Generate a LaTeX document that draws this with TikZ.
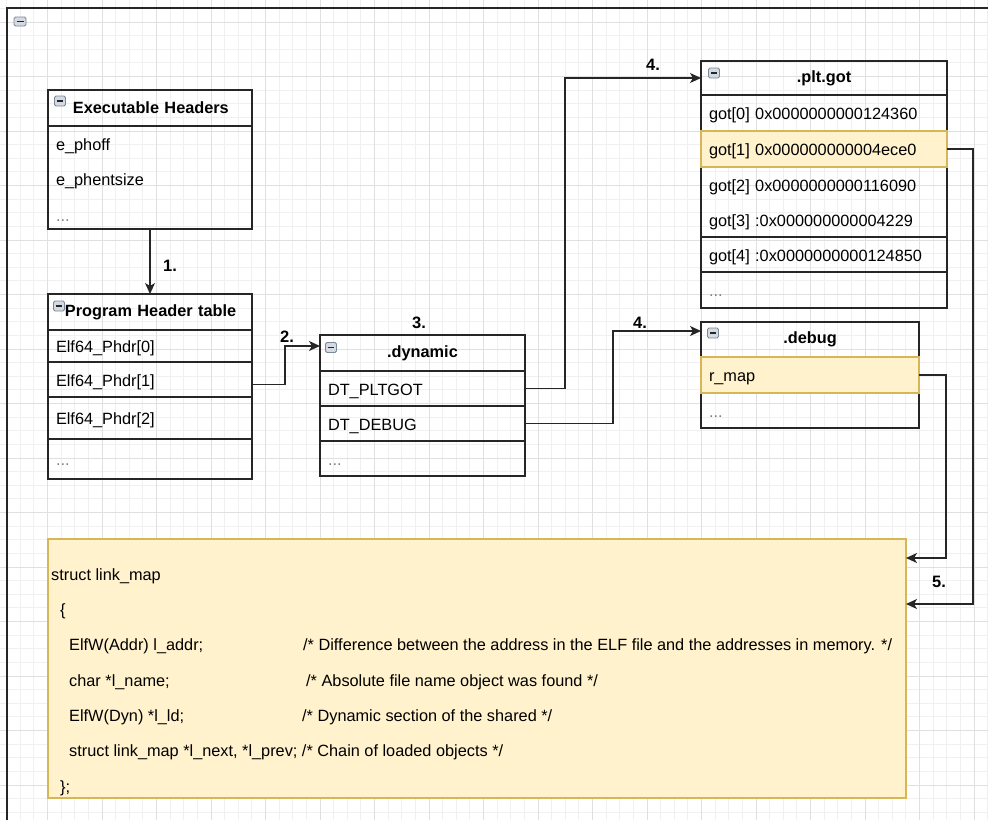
\documentclass[tikz,border=0pt]{standalone}
\usepackage{fontspec}
\setmainfont{Liberation Sans}
\usepackage{xcolor}
\usetikzlibrary{arrows.meta, positioning}
\definecolor{hlfill}{HTML}{FFF2CC}
\definecolor{hldraw}{HTML}{D6B656}
\definecolor{gridmin}{HTML}{F0F0F0}
\definecolor{gridmaj}{HTML}{E0E0E0}
\definecolor{edge}{HTML}{262626}
\definecolor{iconfill}{HTML}{D3DAE2}
\definecolor{icondraw}{HTML}{7D8896}

\begin{document}
\begin{tikzpicture}[
    x=1pt, y=-1pt,
    tbl/.style={draw=edge, line width=1.4pt, outer sep=0pt, inner xsep=8pt, inner ysep=0pt},
    hdr/.style={tbl, font=\bfseries\fontsize{16.3}{19}\selectfont},
    fldbase/.style={tbl, font=\fontsize{16.3}{19}\selectfont, align=left},
    fld/.style={fldbase, text height=16.5pt, text depth=3.5pt},
    hl/.style={fill=hlfill, draw=hldraw},
    phcol/.style={minimum width=204pt, text width=188pt},
    dyncol/.style={minimum width=205pt, text width=189pt},
    gotcol/.style={minimum width=246pt, text width=230pt},
    dbgcol/.style={minimum width=218pt, text width=202pt},
    icon/.style={draw=icondraw, fill=iconfill, line width=0.8pt, rounded corners=1.5pt,
        minimum width=11pt, minimum height=10pt, inner sep=0pt,
        path picture={\draw[line width=1.6pt, edge] ([xshift=2.5pt]path picture bounding box.west) -- ([xshift=-2.5pt]path picture bounding box.east);}},
    num/.style={font=\bfseries\fontsize{16.5}{19}\selectfont, inner sep=0pt},
    line/.style={-{Stealth[length=11pt, width=10pt, inset=3pt]}, line width=1.4pt, draw=edge},
    gmin/.style={draw=gridmin, line width=0.8pt},
    gmaj/.style={draw=gridmaj, line width=0.9pt}
]
\useasboundingbox (0,0) rectangle (988,820);
\fill[white] (0,0) rectangle (988,820);

% Grid
\foreach \gx in {6.625,20.25,...,988} \draw[gmin] (\gx,0) -- (\gx,820);
\foreach \gy in {8.375,22,...,820} \draw[gmin] (0,\gy) -- (988,\gy);
\foreach \gx in {47.5,102,...,988} \draw[gmaj] (\gx,0) -- (\gx,820);
\foreach \gy in {22,76.5,...,820} \draw[gmaj] (0,\gy) -- (988,\gy);

% Container
\draw[edge, line width=2.2pt] (7,820) |- (988,8);
\node[icon, minimum width=12pt, minimum height=9pt] (topic) at (20,21.5) {};

% Executable headers
\node[hdr, phcol, minimum height=36pt, align=left, anchor=north west] (exech) at (48,90) {\hspace*{17pt}Executable Headers};
\node[fldbase, phcol, minimum height=103pt, below=0pt of exech, font=\fontsize{16.3}{35.5}\selectfont] (exec) {\rule{0pt}{16.5pt}e\_phoff\\e\_phentsize\\\textcolor{black!50}{...}};
\node[icon] (exic) at ([xshift=12pt, yshift=-11pt]exech.north west) {};

% Program header table
\node[hdr, phcol, minimum height=36pt, align=left, anchor=north west] (phth) at (48,294) {\hspace*{9pt}Program Header table};
\node[fld, phcol, minimum height=32pt, below=0pt of phth] (ph0) {Elf64\_Phdr[0]};
\node[fld, phcol, minimum height=35pt, below=0pt of ph0] (ph1) {Elf64\_Phdr[1]};
\node[fld, phcol, minimum height=42pt, below=0pt of ph1] (ph2) {Elf64\_Phdr[2]};
\node[fld, phcol, minimum height=40pt, below=0pt of ph2] (ph3) {\textcolor{black!50}{...}};
\node[icon] (phic) at ([xshift=11pt, yshift=-12pt]phth.north west) {};

% .dynamic
\node[hdr, dyncol, minimum height=36pt, align=center, anchor=north west] (dynh) at (320,335) {.dynamic};
\node[fld, dyncol, minimum height=35pt, below=0pt of dynh] (dpltgot) {DT\_PLTGOT};
\node[fld, dyncol, minimum height=35pt, below=0pt of dpltgot] (ddebug) {DT\_DEBUG};
\node[fld, dyncol, minimum height=35pt, below=0pt of ddebug] (ddots) {\textcolor{black!50}{...}};
\node[icon] (dynic) at ([xshift=11pt, yshift=-12.5pt]dynh.north west) {};

% .plt.got
\node[hdr, gotcol, minimum height=34pt, align=center, anchor=north west] (goth) at (701,61) {.plt.got};
\node[fld, gotcol, minimum height=36pt, below=0pt of goth] (got0) {got[0] 0x0000000000124360};
\node[fld, gotcol, hl, minimum height=36pt, below=0pt of got0] (got1) {got[1] 0x000000000004ece0};
\node[fldbase, gotcol, minimum height=70pt, below=0pt of got1, font=\fontsize{16.3}{35}\selectfont] (got23) {\rule{0pt}{16.5pt}got[2] 0x0000000000116090\\got[3] :0x000000000004229};
\node[fld, gotcol, minimum height=35pt, below=0pt of got23] (got4) {got[4] :0x0000000000124850};
\node[fld, gotcol, minimum height=36pt, below=0pt of got4] (gotdots) {\textcolor{black!50}{...}};
\draw[hldraw, line width=1.4pt] (got1.north west) rectangle (got1.south east);
\node[icon] (gotic) at ([xshift=13pt, yshift=-12pt]goth.north west) {};

% .debug
\node[hdr, dbgcol, minimum height=35pt, align=center, anchor=north west] (dbgh) at (701,322) {.debug};
\node[fld, dbgcol, hl, minimum height=36pt, below=0pt of dbgh] (rmap) {r\_map};
\node[fld, dbgcol, minimum height=35pt, below=0pt of rmap] (dbgdots) {\textcolor{black!50}{...}};
\draw[hldraw, line width=1.4pt] (rmap.north west) rectangle (rmap.south east);
\node[icon] (dbgic) at ([xshift=12pt, yshift=-11pt]dbgh.north west) {};

% link_map
\node[tbl, fill=hlfill, draw=hldraw, minimum width=858pt, minimum height=259pt, anchor=north west] (lmap) at (48,539) {};
\node[anchor=north west, inner sep=0pt, align=left, font=\fontsize{16.3}{35.33}\selectfont] (lmaptxt) at (51,568) {%
struct link\_map\\
\hspace*{9pt}\{\\
\hspace*{18pt}\makebox[234pt][l]{ElfW(Addr) l\_addr;}/* Difference between the address in the ELF file and the addresses in memory. */\\
\hspace*{18pt}\makebox[237pt][l]{char *l\_name;}/* Absolute file name object was found */\\
\hspace*{18pt}\makebox[233pt][l]{ElfW(Dyn) *l\_ld;}/* Dynamic section of the shared */\\
\hspace*{18pt}struct link\_map *l\_next, *l\_prev; /* Chain of loaded objects */\\
\hspace*{9pt}\};};

% Arrows
\draw[line] (exec) -- (phth);
\draw[line] ([yshift=-5pt]ph1.east) -- ++(33,0) |- ([yshift=7pt]dynh.west);
\draw[line] (dpltgot.east) -- ++(40,0) |- (goth.west);
\draw[line] (ddebug.east) -- ++(88,0) |- ([yshift=8.5pt]dbgh.west);
\draw[line] (got1.east) -- ++(26,0) |- ([yshift=64.5pt]lmap.east);
\draw[line] (rmap.east) -- ++(27,0) |- ([yshift=110.5pt]lmap.east);

% Step labels
\node[num] (n1) at (170,266) {1.};
\node[num] (n2) at (287,337) {2.};
\node[num] (n3) at (419,323) {3.};
\node[num] (n4a) at (653,65) {4.};
\node[num] (n4b) at (640,323) {4.};
\node[num] (n5) at (939,582) {5.};

\end{tikzpicture}
\end{document}
